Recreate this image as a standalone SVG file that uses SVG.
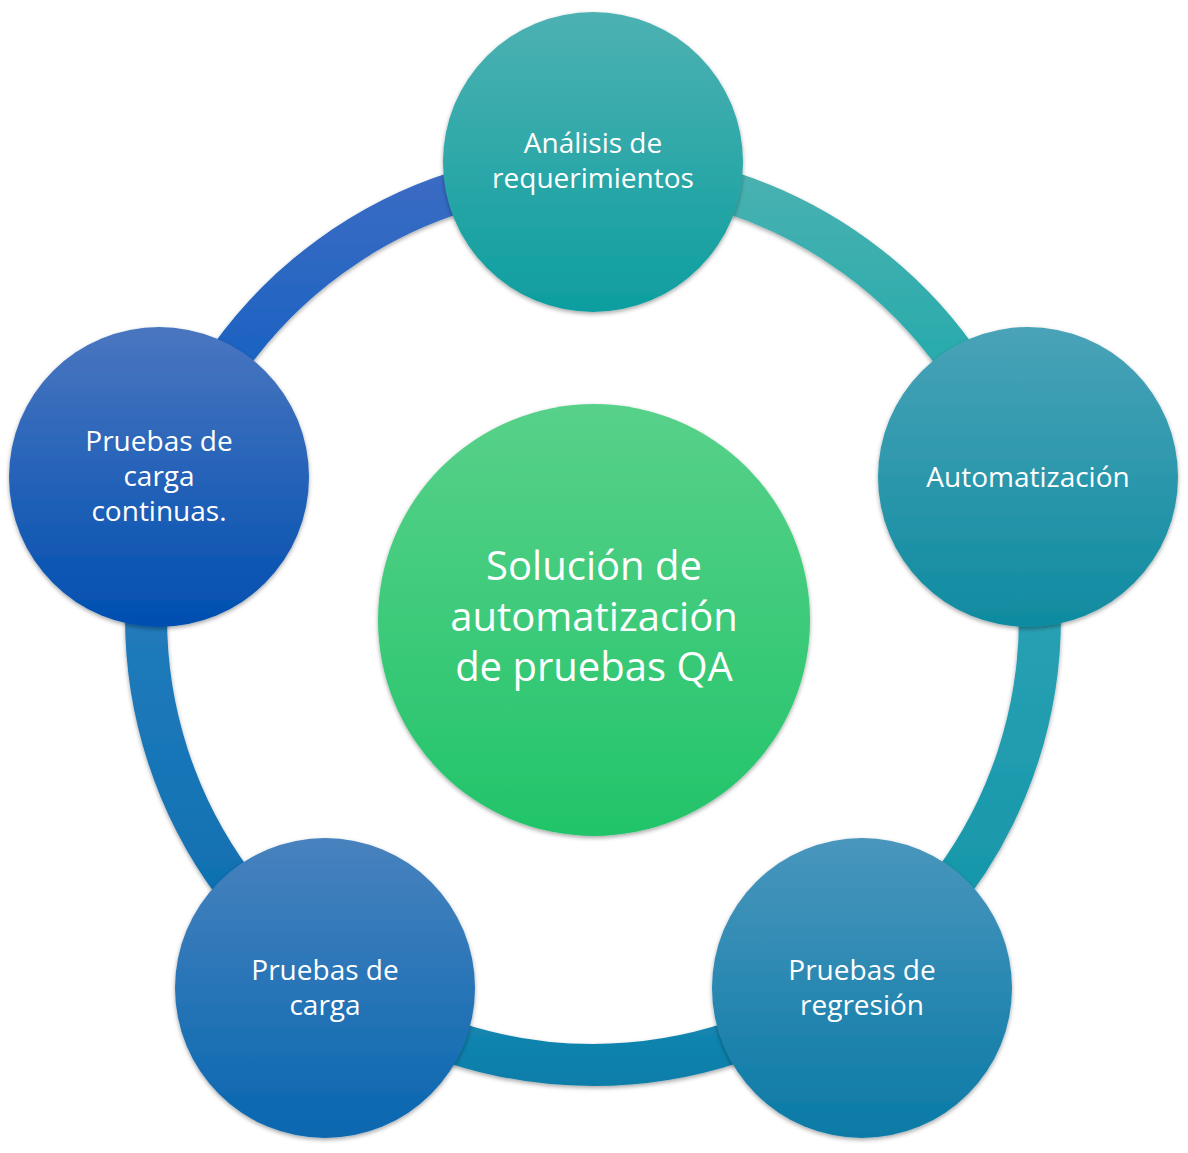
<svg xmlns="http://www.w3.org/2000/svg" width="1188" height="1153" viewBox="0 0 1188 1153">
<defs>
<linearGradient id="gTop" x1="0" y1="0" x2="0" y2="1"><stop offset="0" stop-color="#4db1b2"/><stop offset="1" stop-color="#0e9e9f"/></linearGradient>
<linearGradient id="gRight" x1="0" y1="0" x2="0" y2="1"><stop offset="0" stop-color="#49a3b8"/><stop offset="1" stop-color="#0f8ba0"/></linearGradient>
<linearGradient id="gBR" x1="0" y1="0" x2="0" y2="1"><stop offset="0" stop-color="#4996bd"/><stop offset="1" stop-color="#0a7aa6"/></linearGradient>
<linearGradient id="gBL" x1="0" y1="0" x2="0" y2="1"><stop offset="0" stop-color="#4882be"/><stop offset="1" stop-color="#0867b0"/></linearGradient>
<linearGradient id="gLeft" x1="0" y1="0" x2="0" y2="1"><stop offset="0" stop-color="#4a76c0"/><stop offset="1" stop-color="#004fb0"/></linearGradient>
<linearGradient id="gCenter" x1="0" y1="0" x2="0" y2="1"><stop offset="0" stop-color="#58d18a"/><stop offset="1" stop-color="#22c46a"/></linearGradient>
<linearGradient id="aTR" gradientUnits="userSpaceOnUse" x1="0" y1="170" x2="0" y2="480"><stop offset="0" stop-color="#4ab1b1"/><stop offset="1" stop-color="#14a7a9"/></linearGradient>
<linearGradient id="aR" gradientUnits="userSpaceOnUse" x1="0" y1="480" x2="0" y2="980"><stop offset="0" stop-color="#33a4b8"/><stop offset="1" stop-color="#1195a7"/></linearGradient>
<linearGradient id="aB" gradientUnits="userSpaceOnUse" x1="0" y1="975" x2="0" y2="1090"><stop offset="0" stop-color="#1a8cb6"/><stop offset="1" stop-color="#0a7da8"/></linearGradient>
<linearGradient id="aL" gradientUnits="userSpaceOnUse" x1="0" y1="480" x2="0" y2="980"><stop offset="0" stop-color="#2a80c1"/><stop offset="1" stop-color="#0a6dae"/></linearGradient>
<linearGradient id="aTL" gradientUnits="userSpaceOnUse" x1="0" y1="170" x2="0" y2="480"><stop offset="0" stop-color="#3c6cc4"/><stop offset="1" stop-color="#075dc0"/></linearGradient>
<filter id="sh" filterUnits="userSpaceOnUse" x="0" y="0" width="1188" height="1153"><feDropShadow dx="0" dy="2" stdDeviation="2" flood-color="#000" flood-opacity="0.35"/></filter>
</defs>
<style>
.arc{fill:none;stroke-width:42;filter:url(#sh)}
.node circle{filter:url(#sh)}
.lbl{font-family:"Open Sans","Noto Sans",sans-serif;font-size:28px;fill:#fff;text-anchor:middle}
.clbl{font-family:"Open Sans","Noto Sans",sans-serif;font-size:40px;fill:#fff;text-anchor:middle}
</style>
<rect width="1188" height="1153" fill="#fff"/>
<g id="connectors">
<path class="arc" stroke="url(#aTR)" d="M593,171 A447,447 0 0 1 1018.1,479.9"/>
<path class="arc" stroke="url(#aR)" d="M1018.1,479.9 A447,447 0 0 1 855.7,979.6"/>
<path class="arc" stroke="url(#aB)" d="M855.7,979.6 A447,447 0 0 1 330.3,979.6"/>
<path class="arc" stroke="url(#aL)" d="M330.3,979.6 A447,447 0 0 1 167.9,479.9"/>
<path class="arc" stroke="url(#aTL)" d="M167.9,479.9 A447,447 0 0 1 593,171"/>
</g>
<g id="center" class="node">
<circle cx="594" cy="620" r="216" fill="url(#gCenter)"/>
<text class="clbl"><tspan x="594" y="580">Solución de</tspan><tspan x="594" y="631">automatización</tspan><tspan x="594" y="681">de pruebas QA</tspan></text>
</g>
<g id="n-analisis" class="node">
<circle cx="593" cy="162" r="150" fill="url(#gTop)"/>
<text class="lbl"><tspan x="593" y="153">Análisis de</tspan><tspan x="593" y="188">requerimientos</tspan></text>
</g>
<g id="n-automatizacion" class="node">
<circle cx="1028" cy="477" r="150" fill="url(#gRight)"/>
<text class="lbl"><tspan x="1028" y="487">Automatización</tspan></text>
</g>
<g id="n-regresion" class="node">
<circle cx="862" cy="988" r="150" fill="url(#gBR)"/>
<text class="lbl"><tspan x="862" y="980">Pruebas de</tspan><tspan x="862" y="1015">regresión</tspan></text>
</g>
<g id="n-carga" class="node">
<circle cx="325" cy="988" r="150" fill="url(#gBL)"/>
<text class="lbl"><tspan x="325" y="980">Pruebas de</tspan><tspan x="325" y="1015">carga</tspan></text>
</g>
<g id="n-carga-continuas" class="node">
<circle cx="159" cy="477" r="150" fill="url(#gLeft)"/>
<text class="lbl"><tspan x="159" y="451">Pruebas de</tspan><tspan x="159" y="486">carga</tspan><tspan x="159" y="521">continuas.</tspan></text>
</g>
</svg>
